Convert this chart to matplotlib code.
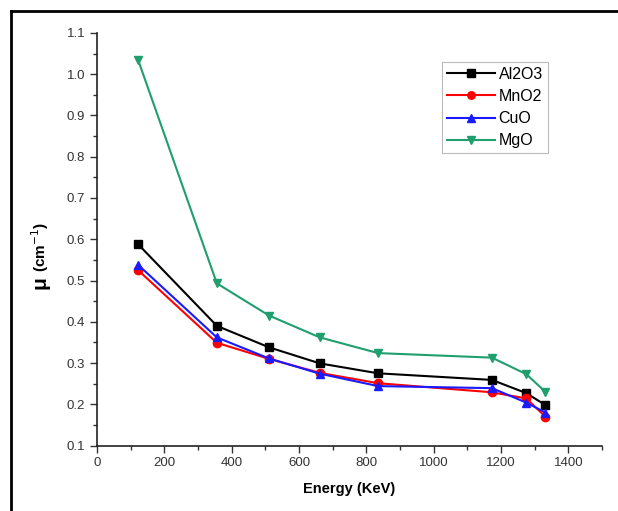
import matplotlib.pyplot as plt
from matplotlib.lines import Line2D
from matplotlib.ticker import MultipleLocator

plt.rcParams['font.family'] = ['Liberation Sans', 'DejaVu Sans']

# gamma energies (keV)
energy = [122, 356, 511, 662, 835, 1173, 1275, 1332]

# linear attenuation coefficient (cm^-1)
al2o3 = [0.588, 0.390, 0.338, 0.299, 0.275, 0.259, 0.227, 0.198]
mno2 = [0.525, 0.349, 0.310, 0.276, 0.251, 0.229, 0.214, 0.170]
cuo = [0.538, 0.362, 0.311, 0.274, 0.244, 0.239, 0.204, 0.180]
mgo = [1.035, 0.493, 0.415, 0.362, 0.324, 0.313, 0.273, 0.230]

series = [
    ('Al2O3', al2o3, 'black', 's'),
    ('MnO2', mno2, '#ff0000', 'o'),
    ('CuO', cuo, '#1a1aff', '^'),
    ('MgO', mgo, '#1f9e6e', 'v'),
]

W, H = 618, 511
fig = plt.figure(figsize=(W / 100, H / 100), dpi=100)
ax = fig.add_axes([97 / W, (H - 445.5) / H, (602 - 97) / W, (445.5 - 33) / H])

for name, vals, col, mk in series:
    ax.plot(energy, vals, color=col, marker=mk, markersize=6, linewidth=1.5, label=name)

ax.set_xlim(0, 1500)
ax.set_ylim(0.1, 1.1)
ax.xaxis.set_minor_locator(MultipleLocator(100))
ax.yaxis.set_major_locator(MultipleLocator(0.1))
ax.yaxis.set_minor_locator(MultipleLocator(0.05))
ax.set_xticks([0, 200, 400, 600, 800, 1000, 1200, 1400])
ax.tick_params(which='major', direction='out', length=5, width=1, labelsize=9.5, colors='#333333')
ax.tick_params(which='minor', direction='out', length=3, width=1, colors='#333333')
ax.yaxis.set_major_formatter(plt.FuncFormatter(lambda v, p: f'{v:.1f}'))

for s in ['top', 'right']:
    ax.spines[s].set_visible(False)
for s in ['left', 'bottom']:
    ax.spines[s].set_linewidth(1.2)
    ax.spines[s].set_color('#222222')

ax.set_xlabel('Energy (KeV)', fontsize=10.5, fontweight='bold', labelpad=9)
fig.text(40 / W, 1 - 283 / H, 'μ', rotation=90, fontsize=15, fontweight='bold',
         ha='center', va='center')
fig.text(40 / W, 1 - 247 / H, '(cm$^{-1}$)', rotation=90, fontsize=11, fontweight='bold',
         ha='center', va='center')

leg = ax.legend(loc='upper left', bbox_to_anchor=((442 - 97) / (602 - 97), (445.5 - 62) / (445.5 - 33)),
                borderaxespad=0, fontsize=11.5, handlelength=3.0, handletextpad=0.25, borderpad=0.3,
                labelspacing=0.45, fancybox=False, framealpha=1, markerscale=0.9)
leg.get_frame().set_edgecolor('#bbbbbb')
leg.get_frame().set_linewidth(0.8)

# outer frame (only left/top edges visible in the crop)
fig.add_artist(Line2D([11 / W, 11 / W], [0, 1 - 11 / H], transform=fig.transFigure, color='black', linewidth=2))
fig.add_artist(Line2D([11 / W, 1], [1 - 11 / H, 1 - 11 / H], transform=fig.transFigure, color='black', linewidth=2))

fig.savefig('out.png', dpi=100)
